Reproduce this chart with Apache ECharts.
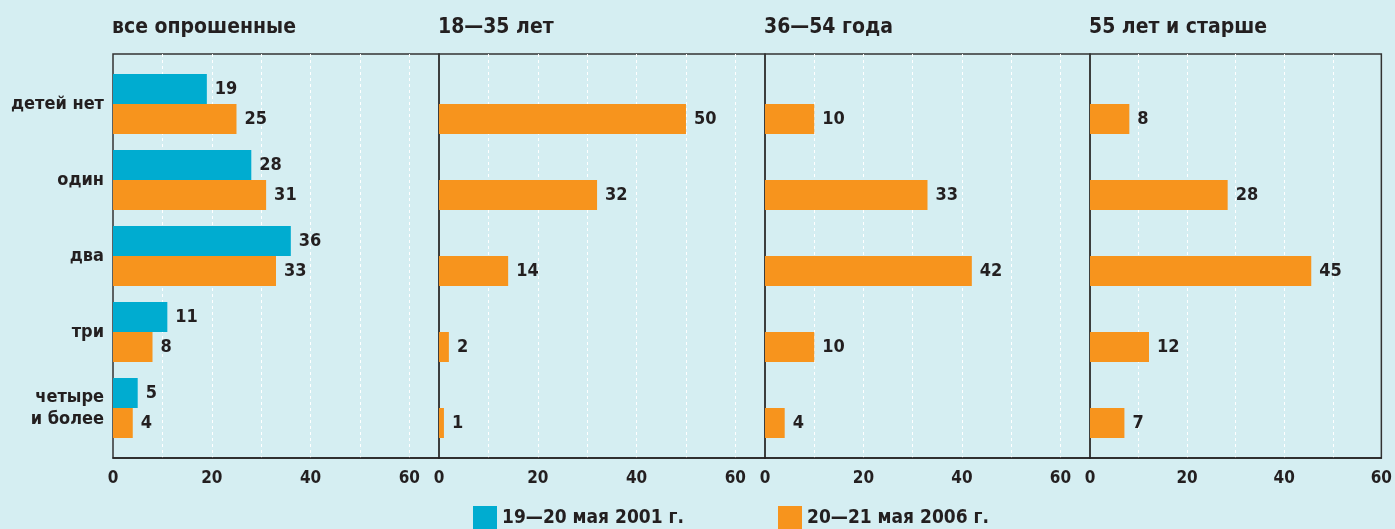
<!DOCTYPE html>
<html>
<head>
    <meta charset="utf-8">
    <title></title>
    <style>
        html,body{ margin:0; padding:0; background:#d5eef2; }
    </style>
</head>
<body>
<script src="https://cdn.jsdelivr.net/npm/echarts@6/dist/echarts.min.js"></script>
<div id="main" style="width:1395px;height:529px;"></div>
<script type="text/javascript">
    // данные
    var categories = ['детей нет', 'один', 'два', 'три', 'четыре\nи более'];
    var panelTitles = ['все опрошенные', '18—35 лет', '36—54 года', '55 лет и старше'];
    var seriesNames = ['19—20 мая 2001 г.', '20—21 мая 2006 г.'];
    var all2001 = [19, 28, 36, 11, 5];
    var all2006 = [25, 31, 33, 8, 4];
    var age18_35 = [50, 32, 14, 2, 1];
    var age36_54 = [10, 33, 42, 10, 4];
    var age55 = [8, 28, 45, 12, 7];
    var axisTicks = [0, 20, 40, 60];

    var panels2001 = [all2001, null, null, null];
    var panels2006 = [all2006, age18_35, age36_54, age55];

    var font = '"Liberation Sans Narrow", "DejaVu Sans Condensed", sans-serif';
    var ink = '#231f20';
    var blue = '#00acd0';
    var orange = '#f7941d';

    // позиции панелей
    var lefts = [113, 439, 765, 1090];
    var widths = [326, 326, 325, 295];
    var maxes = [66, 66, 66, 60];

    var grids = [], xAxes = [], yAxes = [], series = [], titles = [];

    for (var i = 0; i < 4; i++) {
        // сетка для столбцов
        grids.push({ left: lefts[i], top: 66, width: widths[i], height: 380 });
        // рамка и ось
        grids.push({ left: lefts[i], top: 54, width: widths[i], height: 404,
            show: true, borderColor: '#333333', borderWidth: 1.5, backgroundColor: 'transparent' });

        xAxes.push({ gridIndex: i * 2, type: 'value', min: 0, max: maxes[i], show: false });
        xAxes.push({
            gridIndex: i * 2 + 1, type: 'value', min: 0, max: maxes[i], interval: 10,
            axisLine: { show: true, lineStyle: { color: '#231f20', width: 1.5 } },
            axisTick: { show: false },
            splitLine: { show: true, showMinLine: false, showMaxLine: false,
                lineStyle: { color: '#ffffff', type: [3, 3], width: 1 } },
            axisLabel: {
                color: ink, fontFamily: font, fontWeight: 'bold', fontSize: 17, margin: 12,
                formatter: function (v) { return axisTicks.indexOf(v) >= 0 ? String(v) : ''; }
            }
        });

        yAxes.push({
            gridIndex: i * 2, type: 'category', data: categories, inverse: true,
            axisLine: { show: false }, axisTick: { show: false },
            axisLabel: {
                show: i === 0, color: ink, fontFamily: font, fontWeight: 'bold',
                fontSize: 18, margin: 9, lineHeight: 22, align: 'right'
            }
        });
        yAxes.push({ gridIndex: i * 2 + 1, type: 'value', show: false });

        var lbl = { show: true, position: 'right', distance: 8, color: ink,
            fontFamily: font, fontWeight: 'bold', fontSize: 18 };

        series.push({
            name: seriesNames[0], type: 'bar', xAxisIndex: i * 2, yAxisIndex: i * 2,
            data: panels2001[i] ? panels2001[i] : categories.map(function () { return '-'; }),
            barWidth: 30, barGap: '0%', itemStyle: { color: blue }, label: lbl, silent: true
        });
        series.push({
            name: seriesNames[1], type: 'bar', xAxisIndex: i * 2, yAxisIndex: i * 2,
            data: panels2006[i], barWidth: 30, barGap: '0%',
            itemStyle: { color: orange }, label: lbl, silent: true
        });

        titles.push({
            text: panelTitles[i], left: lefts[i] - 1, top: 17, padding: 0,
            textStyle: { color: ink, fontFamily: font, fontWeight: 'bold', fontSize: 21 }
        });
    }

    var myChart = echarts.init(document.getElementById('main'));
    myChart.setOption({
        backgroundColor: '#d5eef2',
        animation: false,
        title: titles,
        grid: grids,
        xAxis: xAxes,
        yAxis: yAxes,
        legend: [
            { data: [seriesNames[0]], left: 473, top: 506, padding: 0, itemWidth: 24, itemHeight: 24, icon: 'rect',
              itemGap: 12, textStyle: { color: ink, fontFamily: font, fontWeight: 'bold', fontSize: 19 } },
            { data: [seriesNames[1]], left: 778, top: 506, padding: 0, itemWidth: 24, itemHeight: 24, icon: 'rect',
              itemGap: 12, textStyle: { color: ink, fontFamily: font, fontWeight: 'bold', fontSize: 19 } }
        ],
        series: series
    });
</script>
</body>
</html>
